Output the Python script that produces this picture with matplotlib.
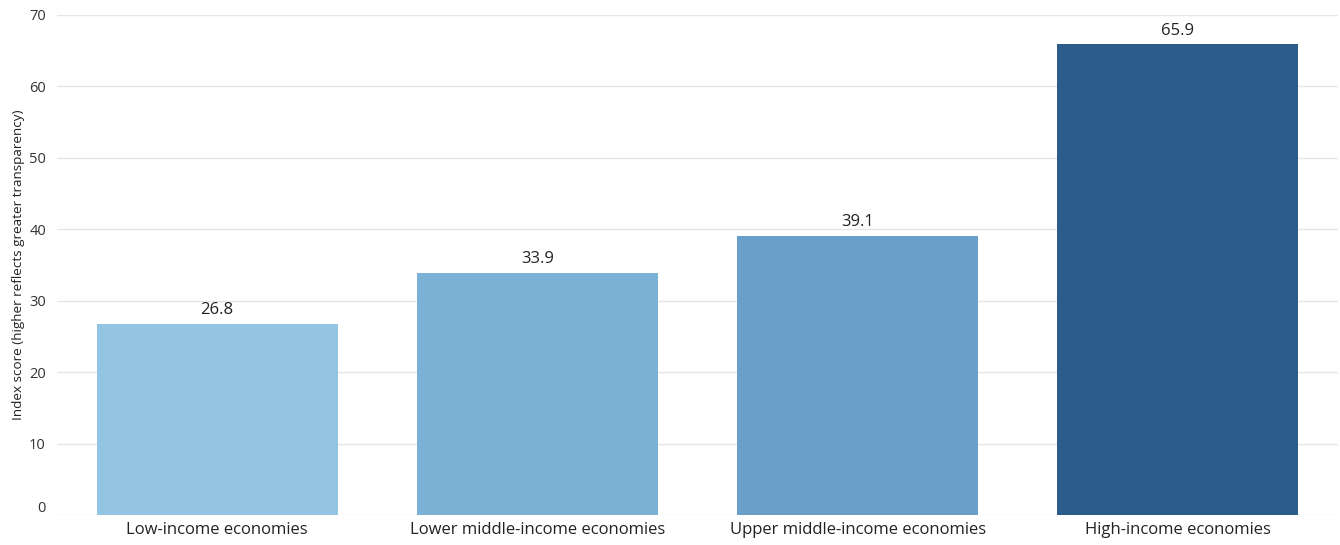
import matplotlib
matplotlib.use("Agg")
import matplotlib.pyplot as plt
import matplotlib.transforms as mtransforms
import numpy as np

categories = ["Low-income economies", "Lower middle-income economies",
              "Upper middle-income economies", "High-income economies"]
values = [26.8, 33.9, 39.1, 65.9]
colors = ["#93C4E1", "#7CB1D6", "#6A9FC9", "#2C5C8A"]
yticks = [0, 10, 20, 30, 40, 50, 60, 70]
ylabel = "Index score (higher reflects greater transparency)"

plt.rcParams['font.family'] = ['Open Sans', 'DejaVu Sans']

fig = plt.figure(figsize=(13.4, 5.45), dpi=100)
ax = fig.add_axes([57/1340, 30/545, (1338-57)/1340, (515-15)/545])

x = np.arange(len(categories))
bars = ax.bar(x, values, width=0.753, color=colors, zorder=2)
for xi, v in zip(x, values):
    ax.text(xi, v + 0.8, f"{v:.1f}", ha="center", va="bottom", fontsize=12, color="#222222")

ax.set_xlim(-0.5, len(categories) - 0.5)
ax.set_ylim(0, 70)
ax.set_yticks(yticks)
ax.set_yticklabels([str(t) for t in yticks])
ax.grid(axis="y", color="#E6E6E6", linewidth=1, zorder=0)
ax.set_axisbelow(True)
for s in ax.spines.values():
    s.set_visible(False)
ax.tick_params(axis="y", length=0, labelsize=10.5, labelcolor="#333333", pad=8)
ax.tick_params(axis="x", length=0, labelsize=12, labelcolor="#222222", pad=5)
ax.set_xticks(x)
ax.set_xticklabels(categories)
# shift "0" label upward as in reference
lab0 = ax.get_yticklabels()[0]
lab0.set_transform(lab0.get_transform() + mtransforms.ScaledTranslation(0, 9/100, fig.dpi_scale_trans))

ax.set_ylabel(ylabel, fontsize=9.7, color="#222222")
ax.yaxis.set_label_coords(-32/1281, 0.5)

fig.savefig("out.png", dpi=100)
